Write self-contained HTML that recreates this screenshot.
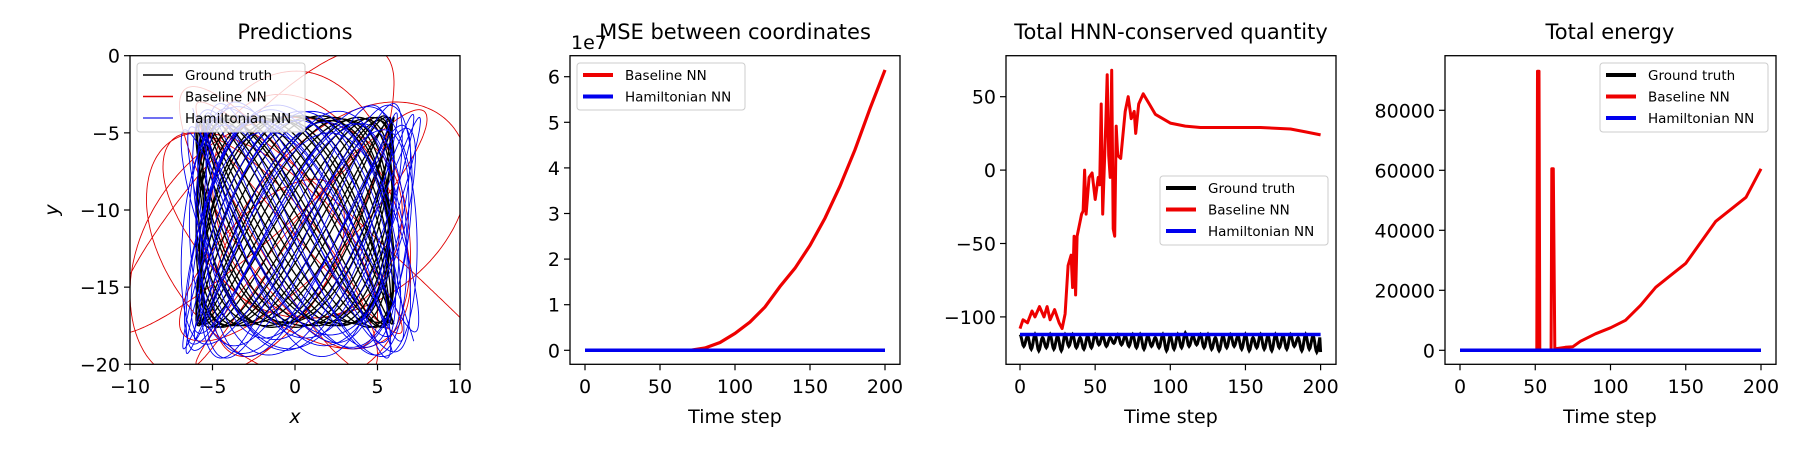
<!DOCTYPE html>
<html><head><meta charset="utf-8"><style>
html,body{margin:0;padding:0;background:#fff;}
svg{display:block;font-family:"DejaVu Sans","Liberation Sans",sans-serif;}
</style></head><body>
<svg id="fig" width="1800" height="450" viewBox="0 0 1800 450" xmlns="http://www.w3.org/2000/svg"></svg>
<script>
// ---------- data ----------
const gtXTurns=[-5.8,5.9,-6.0,5.7,-5.9,6.0,-5.6,5.8,-6.0,5.9,-5.7,6.0,-5.9,5.6,-6.0,5.8,-5.8,5.9,-6.0,5.7,-5.9,6.0,-5.7,5.8,-6.0,5.9,-5.8,6.0,-5.9,5.7,-6.0,5.8,-5.7,5.9,-6.0,5.8,-5.9,6.0,-5.8,5.7,-6.0,5.9,-5.8,6.0];
const gtYTurns=[-4.0,-17.5,-4.1,-17.4,-3.9,-17.6,-4.2,-17.3,-4.0,-17.5,-4.1,-17.6,-3.9,-17.4,-4.0,-17.5,-4.2,-17.3,-4.0,-17.6,-4.1,-17.4,-3.9,-17.5,-4.0,-17.6,-4.1,-17.3,-4.0,-17.5,-4.2,-17.4,-3.9,-17.5,-4.0,-17.6,-4.1,-17.3,-3.9,-17.5,-4.2,-17.4,-4.0,-17.6,-3.9,-17.5,-4.1,-17.3,-4.0,-17.5,-4.2,-17.6,-3.9,-17.4,-4.1,-17.5,-4.0,-17.3,-3.9,-17.6,-4.2,-17.5,-4.0,-17.4,-4.1,-17.6,-3.9,-17.5,-4.0,-17.4];
const blueXTurns=[-6.2,7.0,-5.5,6.4,-6.6,7.5,-5.8,6.0,-6.9,7.2,-5.4,6.8,-6.3,5.9,-6.7,7.4,-5.9,6.2,-6.5,7.1,-5.6,6.6,-6.8,6.1,-6.0,7.3,-5.7,6.5,-6.4,7.0,-6.1,5.8,-6.9,6.9,-5.5,7.6,-6.2,6.3,-6.6,7.2];
const blueYTurns=[-3.4,-18.8,-4.5,-19.5,-3.0,-18.2,-5.0,-19.3,-3.6,-17.9,-4.2,-19.6,-3.2,-18.6,-4.8,-19.0,-3.8,-18.4,-3.1,-19.4,-4.4,-18.0,-3.5,-19.2,-4.9,-18.7,-3.3,-19.5,-4.0,-18.3,-3.7,-19.1,-4.6,-18.9,-3.2,-19.6,-4.1,-18.5,-3.6,-19.0,-4.3,-18.6,-3.4,-19.3,-4.7,-18.1,-3.9,-19.5,-3.1,-18.8,-4.5,-19.2,-3.6,-18.4,-4.2,-19.6,-3.3,-18.7,-4.8,-19.0,-3.7,-18.3,-4.0,-19.4,-3.5,-18.9,-4.4,-19.1,-3.2,-18.5];
const redXTurns=[-6,6.5,-7,5,-9,7,-6,10.5,-5,6,-11,4,-6,8,-7,3,-10,6.5,-5,7,-8,5,-6,11];
const redYTurns=[-4,-18,-2,-19,-5,-21,-1,-17,-3,-19.5,0.5,-18,-6,-20,-3.5,-18.5,-8,-21,-4,-17,-2.5,-19,-5,-20.5,-3,-18];

const mseSteps=[0,10,20,30,40,50,60,70,80,90,100,110,120,130,140,150,160,170,180,190,200];
const mseBaseline=[0,0,0,0,0,0,0,0,0.05,0.17,0.37,0.62,0.95,1.4,1.8,2.3,2.9,3.6,4.4,5.3,6.15];
const mseHamiltonian=[0,0,0,0,0,0,0,0,0,0,0,0,0,0,0,0,0,0,0,0,0];

const hnnSteps=[0,2,5,8,10,13,16,18,20,23,26,28,30,32,34,35,36,37,38,40,41,42,43,44,46,48,50,52,53,54,55,56,57,58,59,60,61,62,63,64,65,67,70,72,74,76,77,79,82,86,90,100,110,120,140,160,180,190,200];
const hnnBaseline=[-108,-102,-104,-96,-100,-93,-100,-93,-102,-95,-104,-108,-98,-65,-58,-80,-45,-85,-45,-35,-30,-28,0,-30,-5,-2,-20,-5,-10,45,-30,0,30,65,10,-5,68,-40,-45,30,10,8,40,50,35,40,25,45,52,45,38,32,30,29,29,29,28,26,24];
const hnnTruthPeaks=[-112,-113,-112,-114,-112,-113,-112,-112,-114,-113,-112,-113,-114,-112,-113,-112,-112,-113,-114,-112,-113,-112,-111,-113,-112,-112,-114,-113,-112,-113,-112,-114,-112,-113,-112,-113,-112,-114,-112,-113];
const hnnTruthTroughs=[-120,-122,-123,-121,-122,-123,-120,-121,-122,-121,-119,-120,-118,-119,-120,-121,-122,-120,-121,-123,-122,-121,-120,-119,-121,-122,-123,-121,-120,-122,-123,-121,-122,-123,-121,-122,-120,-123,-122,-124];
const hnnHamiltonian=-112;

const enSteps=[0,51,51.5,52.5,53,60.5,61,62,63,70,75,80,90,100,110,120,130,140,150,160,170,180,190,200];
const enBaseline=[0,0,93000,93000,0,0,60500,60500,500,1000,1200,3000,5500,7500,10000,15000,21000,25000,29000,36000,43000,47000,51000,60500];
const enTruth=0, enHamiltonian=0;

const timeTicks=[0,50,100,150,200];
const p1XTicks=[-10,-5,0,5,10], p1YTicks=[0,-5,-10,-15,-20];
const p2YTicks=[0,1,2,3,4,5,6];
const p3YTicks=[50,0,-50,-100];
const p4YTicks=[0,20000,40000,60000,80000];

// ---------- helpers ----------
const NS='http://www.w3.org/2000/svg';
const fig=document.getElementById('fig');
function mk(tag,attrs,parent){const e=document.createElementNS(NS,tag);for(const k in attrs)e.setAttribute(k,attrs[k]);(parent||fig).appendChild(e);return e;}
function lin(d0,d1,r0,r1){return v=>r0+(v-d0)/(d1-d0)*(r1-r0);}
function fmt(v){return v<0?'\u2212'+Math.abs(v):String(v);}
function turnsFn(turns){return f=>{const n=turns.length-1;const p=Math.min(f*n,n-1e-9);const i=Math.floor(p);const u=p-i;return turns[i]+(turns[i+1]-turns[i])*(1-Math.cos(Math.PI*u))/2;};}

const T=55.7,B=364.3;
function axes(g,L,R,sx,sy,xt,yt,xfmt,yfmt,name){
  xt.forEach(v=>{const x=sx(v);
    const tk=mk('line',{x1:x,x2:x,y1:B,y2:B+6,stroke:'#000','stroke-width':1.2},g);
    
    
    const tl=mk('text',{x:x,y:393,'font-size':19,'text-anchor':'middle'},g);tl.textContent=xfmt(v);
    
    });
  yt.forEach(v=>{const y=sy(v);
    const tk=mk('line',{x1:L-6,x2:L,y1:y,y2:y,stroke:'#000','stroke-width':1.2},g);
    
    
    const tl=mk('text',{x:L-10,y:y+7,'font-size':19,'text-anchor':'end'},g);tl.textContent=yfmt(v);
    
    });
}
function frame(g,L,R,name){const r=mk('rect',{x:L,y:T,width:R-L,height:B-T,fill:'none',stroke:'#000','stroke-width':1.3},g);
  
  }
function clip(id,L,R){const c=mk('clipPath',{id:id});mk('rect',{x:L,y:T,width:R-L,height:B-T},c);}
function title(g,x,txt,name){const t=mk('text',{x:x,y:39,'font-size':21,'text-anchor':'middle'},g);t.textContent=txt;
  
  }
function xlabel(g,x,txt,name,it){const t=mk('text',{x:x,y:423,'font-size':19,'text-anchor':'middle','font-style':it?'italic':'normal'},g);t.textContent=txt;
  
  }
function pathFrom(pts){return 'M'+pts.map(p=>p[0].toFixed(1)+','+p[1].toFixed(1)).join('L');}
function legend(g,x,y,w,h,entries,lw,name){
  const r=mk('rect',{x:x,y:y,width:w,height:h,rx:3,fill:'#fff','fill-opacity':0.8,stroke:'#ccc','stroke-width':1},g);
  
  
  entries.forEach((e,i)=>{const yy=y+12+i*21.5;
    const l=mk('line',{x1:x+6,x2:x+36,y1:yy,y2:yy,stroke:e[1],'stroke-width':lw},g);
    
    
    const t=mk('text',{x:x+48,y:yy+5,'font-size':13.5},g);t.textContent=e[0];
    
    });
}

// ---------- panel 1 ----------
(function(){
  const L=130,R=460,name='predictions';
  const g=mk('g',{});
  const sx=lin(-10,10,L,R), sy=lin(0,-20,T,B);
  clip('c1',L,R);
  const series=[[redXTurns,redYTurns,'#e00000','baseline-trajectory',0.9],[gtXTurns,gtYTurns,'#000','ground-truth-trajectory',1.3],[blueXTurns,blueYTurns,'#0000ee','hamiltonian-trajectory',0.9]];
  series.forEach(s=>{const fx=turnsFn(s[0]),fy=turnsFn(s[1]);const pts=[];const N=4000;
    for(let i=0;i<=N;i++){const f=i/N;pts.push([sx(fx(f)),sy(fy(f))]);}
    const p=mk('path',{d:pathFrom(pts),fill:'none',stroke:s[2],'stroke-width':s[4],'clip-path':'url(#c1)'},g);
    
    });
  frame(g,L,R,name);
  axes(g,L,R,sx,sy,p1XTicks,p1YTicks,fmt,fmt,name);
  title(g,(L+R)/2,'Predictions',name);
  xlabel(g,(L+R)/2,'x',name,true);
  const yl=mk('text',{x:0,y:0,'font-size':19,'text-anchor':'middle','font-style':'italic',transform:'translate(58,210) rotate(-90)'},g);yl.textContent='y';
  
  
  legend(g,137,63,168,69,[['Ground truth','#000'],['Baseline NN','#e00000'],['Hamiltonian NN','#4040ee']],1.5,name);
})();

// ---------- panel 2 ----------
(function(){
  const L=570,R=900,name='mse';
  const g=mk('g',{});
  const sx=lin(0,200,585,885), sy=lin(0,6,350.3,76.7);
  clip('c2',L,R);
  const pr=mk('path',{d:pathFrom(mseSteps.map((t,i)=>[sx(t),sy(mseBaseline[i])])),fill:'none',stroke:'#ee0000','stroke-width':3.2,'clip-path':'url(#c2)'},g);
  
  
  const pb=mk('path',{d:pathFrom(mseSteps.map((t,i)=>[sx(t),sy(mseHamiltonian[i])])),fill:'none',stroke:'#0000ee','stroke-width':3.5,'clip-path':'url(#c2)'},g);
  
  
  frame(g,L,R,name);
  axes(g,L,R,sx,sy,timeTicks,p2YTicks,String,String,name);
  title(g,735,'MSE between coordinates',name);
  xlabel(g,735,'Time step',name,false);
  const off=mk('text',{x:571,y:49,'font-size':19},g);off.textContent='1e7';
  
  
  legend(g,577,63,168,47,[['Baseline NN','#ee0000'],['Hamiltonian NN','#0000ee']],4,name);
})();

// ---------- panel 3 ----------
(function(){
  const L=1006,R=1336,name='hnn';
  const g=mk('g',{});
  const sx=lin(0,200,1020,1320.6), sy=lin(0,50,170.1,96.7);
  clip('c3',L,R);
  const pts=[];const n=hnnTruthTroughs.length;
  for(let k=0;k<n;k++){const t0=k*5;const p=hnnTruthPeaks[k],q=hnnTruthTroughs[k],p2=hnnTruthPeaks[Math.min(k+1,n-1)];
    for(let j=0;j<10;j++){const u=j/10;const t=t0+u*5;let v;
      if(u<0.5)v=p+(q-p)*(1-Math.cos(Math.PI*u*2))/2;else v=q+(p2-q)*(1-Math.cos(Math.PI*(u-0.5)*2))/2;
      pts.push([sx(t),sy(v)]);}}
  pts.push([sx(200),sy(hnnTruthTroughs[n-1])]);
  const pk=mk('path',{d:pathFrom(pts),fill:'none',stroke:'#000','stroke-width':3,'clip-path':'url(#c3)'},g);
  
  
  const pr=mk('path',{d:pathFrom(hnnSteps.map((t,i)=>[sx(t),sy(hnnBaseline[i])])),fill:'none',stroke:'#ee0000','stroke-width':3,'stroke-linejoin':'round','clip-path':'url(#c3)'},g);
  
  
  const pb=mk('line',{x1:sx(0),x2:sx(200),y1:sy(hnnHamiltonian),y2:sy(hnnHamiltonian),stroke:'#0000ee','stroke-width':3.5},g);
  
  
  frame(g,L,R,name);
  axes(g,L,R,sx,sy,timeTicks,p3YTicks,String,fmt,name);
  title(g,1171,'Total HNN-conserved quantity',name);
  xlabel(g,1171,'Time step',name,false);
  legend(g,1160,176,168,69,[['Ground truth','#000'],['Baseline NN','#ee0000'],['Hamiltonian NN','#0000ee']],4,name);
})();

// ---------- panel 4 ----------
(function(){
  const L=1445,R=1776,name='energy';
  const g=mk('g',{});
  const sx=lin(0,200,1460,1761), sy=lin(0,80000,350.3,110.3);
  clip('c4',L,R);
  const pk=mk('line',{x1:sx(0),x2:sx(200),y1:sy(enTruth),y2:sy(enTruth),stroke:'#000','stroke-width':3},g);
  
  
  const pr=mk('path',{d:pathFrom(enSteps.map((t,i)=>[sx(t),sy(enBaseline[i])])),fill:'none',stroke:'#ee0000','stroke-width':3,'stroke-linejoin':'round','clip-path':'url(#c4)'},g);
  
  
  const pb=mk('line',{x1:sx(0),x2:sx(200),y1:sy(enHamiltonian),y2:sy(enHamiltonian),stroke:'#0000ee','stroke-width':3.5},g);
  
  
  frame(g,L,R,name);
  axes(g,L,R,sx,sy,timeTicks,p4YTicks,String,String,name);
  title(g,1610,'Total energy',name);
  xlabel(g,1610,'Time step',name,false);
  legend(g,1600,63,168,69,[['Ground truth','#000'],['Baseline NN','#ee0000'],['Hamiltonian NN','#0000ee']],4,name);
})();
</script>
</body></html>
